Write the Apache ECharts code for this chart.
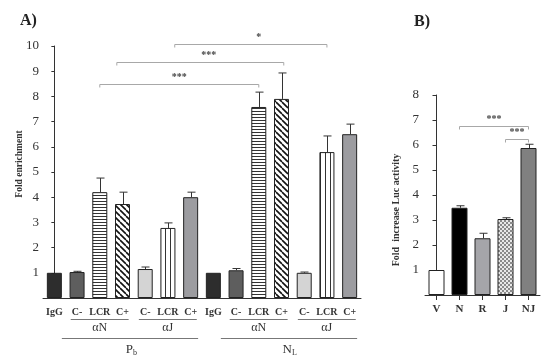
<!DOCTYPE html>
<html><head><meta charset="utf-8">
<script src="https://cdn.jsdelivr.net/npm/echarts@6/dist/echarts.min.js"></script>
<style>html,body{margin:0;padding:0;background:#fff}#c{width:550px;height:361px}</style>
</head><body><div id="c"></div>
<script>
// ---------- data ----------
const catsA = ['IgG','C-','LCR','C+','C-','LCR','C+','IgG','C-','LCR','C+','C-','LCR','C+'];
const valuesA = [1.00,1.03,4.20,3.73,1.15,2.78,4.00,1.00,1.10,7.58,7.90,1.00,5.79,6.50];
const errorsA = [0,0.03,0.56,0.47,0.08,0.20,0.20,0,0.07,0.59,1.03,0.03,0.64,0.40];
// inner groups: label, first category index, last category index
const innerGroups = [['αN',1,3],['αJ',4,6],['αN',8,10],['αJ',11,13]];
// outer groups: main letter, subscript, first index, last index
const outerGroups = [['P','b',0,6],['N','L',7,13]];
// significance brackets: from, to, height, label position, label
const bracketsA = [[2,9,8.5,5.5,'***'],[2.75,10.1,9.37,6.8,'***'],[5.3,12,10.08,9.0,'*']];

const catsB = ['V','N','R','J','NJ'];
const valuesB = [1.00,3.49,2.27,3.04,5.88];
const errorsB = [0,0.08,0.20,0.05,0.15];
const bracketsB = [[1,4,6.78,2.5,'***'],[3,4,6.25,3.5,'***']];

// ---------- styles ----------
const SERIF = '"Liberation Serif", "DejaVu Serif", serif';
function pattern(kind){
  const c = document.createElement('canvas');
  const ctx = c.getContext('2d');
  if (kind === 'h'){ c.width=4; c.height=3; ctx.fillStyle='#fff'; ctx.fillRect(0,0,4,3); ctx.fillStyle='#333'; ctx.fillRect(0,0,4,1); }
  else if (kind === 'v'){ c.width=5; c.height=4; ctx.fillStyle='#fff'; ctx.fillRect(0,0,5,4); ctx.fillStyle='#333'; ctx.fillRect(0,0,1,4); }
  else if (kind === 'd'){ c.width=6; c.height=6; ctx.fillStyle='#fff'; ctx.fillRect(0,0,6,6);
    ctx.strokeStyle='#111'; ctx.lineWidth=1.6;
    for (const o of [-6,0,6]){ ctx.beginPath(); ctx.moveTo(o,0); ctx.lineTo(o+6,6); ctx.stroke(); } }
  else if (kind === 'x'){ c.width=4; c.height=4; ctx.fillStyle='#e8e8e8'; ctx.fillRect(0,0,4,4);
    ctx.fillStyle='#8a8a8a'; ctx.fillRect(0,0,2,2); ctx.fillRect(2,2,2,2); }
  return {image:c, repeat:'repeat'};
}
const pH = pattern('h'), pV = pattern('v'), pD = pattern('d'), pX = pattern('x');
const fillA = ['#2d2d2d','#5e5e5e',pH,pD,'#d4d4d4',pV,'#9c9ca0','#2d2d2d','#5e5e5e',pH,pD,'#d4d4d4',pV,'#9c9ca0'];
const fillB = ['#ffffff','#000000','#a5a5a9',pX,'#808080'];

const chart = echarts.init(document.getElementById('c'), null, {renderer:'canvas'});

function errItem(params, api){
  const e = api.value(2);
  if (!(e > 0)) return null;
  const top = api.coord([api.value(0), api.value(1) + e]);
  const bot = api.coord([api.value(0), api.value(1)]);
  const x = Math.round(top[0]) + 0.5;
  return {type:'group', children:[
    {type:'line', shape:{x1:x,y1:bot[1],x2:x,y2:top[1]}, style:{stroke:'#333',lineWidth:1}},
    {type:'line', shape:{x1:x-4,y1:top[1],x2:x+4,y2:top[1]}, style:{stroke:'#333',lineWidth:1}}
  ]};
}
function bracketRenderer(brackets){
  return function(params, api){
    const b = brackets[params.dataIndex];
    const p1 = api.coord([b[0], b[2]]), p2 = api.coord([b[1], b[2]]);
    const pl = api.coord([b[3], b[2]]);
    const y = Math.round(p1[1]) + 0.5;
    return {type:'group', children:[
      {type:'polyline', shape:{points:[[p1[0],y+3],[p1[0],y],[p2[0],y],[p2[0],y+3]]}, style:{stroke:'#a8a8a8',lineWidth:1,fill:null}},
      {type:'text', x:pl[0], y:y-2, style:{text:b[4], align:'center', verticalAlign:'bottom', font:'bold 10px '+SERIF, fill:'#444'}}
    ]};
  };
}
function groupRenderer(params, api){
  const base = api.coord([0,0])[1];
  if (params.dataIndex < innerGroups.length){
    const g = innerGroups[params.dataIndex];
    const a = api.coord([g[1]-0.28,0])[0], b = api.coord([g[2]+0.27,0])[0];
    const y = Math.round(base + 21) + 0.5;
    return {type:'group', children:[
      {type:'line', shape:{x1:a,y1:y,x2:b,y2:y}, style:{stroke:'#777',lineWidth:1}},
      {type:'text', x:(a+b)/2, y:y+8, style:{text:g[0], align:'center', verticalAlign:'middle', font:'12px '+SERIF, fill:'#333'}}
    ]};
  } else {
    const g = outerGroups[params.dataIndex - innerGroups.length];
    const a = api.coord([g[2]+0.33,0])[0], b = api.coord([g[3]+0.33,0])[0];
    const y = Math.round(base + 40) + 0.5;
    const cx = (a+b)/2 + 2;
    return {type:'group', children:[
      {type:'line', shape:{x1:a,y1:y,x2:b,y2:y}, style:{stroke:'#777',lineWidth:1}},
      {type:'text', x:cx+1, y:y+11, style:{text:g[0], align:'right', verticalAlign:'middle', font:'13px '+SERIF, fill:'#333'}},
      {type:'text', x:cx+1, y:y+14, style:{text:g[1], align:'left', verticalAlign:'middle', font:'8px '+SERIF, fill:'#333'}}
    ]};
  }
}

const axisLineStyle = {color:'#333', width:1};
chart.setOption({
  animation:false,
  backgroundColor:'#fff',
  title:[
    {text:'A)', left:15, top:8, textStyle:{fontFamily:SERIF, fontWeight:'bold', fontSize:16, color:'#222'}},
    {text:'B)', left:409, top:9, textStyle:{fontFamily:SERIF, fontWeight:'bold', fontSize:16, color:'#222'}}
  ],
  graphic:[
    {type:'text', x:20, y:164, rotation:Math.PI/2, style:{text:'Fold enrichment', align:'center', verticalAlign:'middle', font:'bold 9.5px '+SERIF, fill:'#333'}},
    {type:'text', x:396, y:210, rotation:Math.PI/2, style:{text:'Fold  increase Luc activity', align:'center', verticalAlign:'middle', font:'bold 10px '+SERIF, fill:'#333'}}
  ],
  grid:[
    {left:43, top:46, width:318, height:252},
    {left:425, top:95, width:115, height:200}
  ],
  xAxis:[
    {type:'category', gridIndex:0, data:catsA, axisLine:{lineStyle:axisLineStyle}, axisTick:{show:false},
      axisLabel:{fontFamily:SERIF, fontWeight:'bold', fontSize:10, color:'#333', margin:9, interval:0}},
    {type:'value', gridIndex:0, min:-0.5, max:13.5, show:false},
    {type:'category', gridIndex:1, data:catsB, axisLine:{lineStyle:axisLineStyle},
      axisTick:{show:true, alignWithLabel:true, length:5, lineStyle:{color:'#333'}},
      axisLabel:{fontFamily:SERIF, fontWeight:'bold', fontSize:11, color:'#333', margin:9, interval:0}},
    {type:'value', gridIndex:1, min:-0.5, max:4.5, show:false}
  ],
  yAxis:[
    {type:'value', gridIndex:0, min:0, max:10, interval:1, splitLine:{show:false},
      axisLine:{show:true, lineStyle:axisLineStyle}, axisTick:{show:true, length:3, lineStyle:{color:'#333'}},
      axisLabel:{fontFamily:SERIF, fontSize:13, color:'#333', margin:4, formatter:v=> v===0?'':String(v)}},
    {type:'value', gridIndex:1, min:0, max:8, interval:1, splitLine:{show:false},
      axisLine:{show:true, lineStyle:axisLineStyle}, axisTick:{show:true, length:4, lineStyle:{color:'#333'}},
      axisLabel:{fontFamily:SERIF, fontSize:13, color:'#333', margin:6, formatter:v=> v===0?'':String(v)}}
  ],
  series:[
    {type:'bar', xAxisIndex:0, yAxisIndex:0, barWidth:15,
      data:valuesA.map((v,i)=>({value:v, itemStyle:{color:fillA[i]}})),
      itemStyle:{borderColor:'#222', borderWidth:1}},
    {type:'custom', xAxisIndex:0, yAxisIndex:0, data:valuesA.map((v,i)=>[i,v,errorsA[i]]), renderItem:errItem, z:3},
    {type:'custom', xAxisIndex:1, yAxisIndex:0, data:bracketsA.map(b=>[b[0],b[2]]), renderItem:bracketRenderer(bracketsA), clip:false, z:3},
    {type:'custom', xAxisIndex:1, yAxisIndex:0, data:innerGroups.map(g=>[g[1],0]).concat(outerGroups.map(g=>[g[2],0])), renderItem:groupRenderer, clip:false, z:3},
    {type:'bar', xAxisIndex:2, yAxisIndex:1, barWidth:16,
      data:valuesB.map((v,i)=>({value:v, itemStyle:{color:fillB[i]}})),
      itemStyle:{borderColor:'#222', borderWidth:1}},
    {type:'custom', xAxisIndex:2, yAxisIndex:1, data:valuesB.map((v,i)=>[i,v,errorsB[i]]), renderItem:errItem, z:3},
    {type:'custom', xAxisIndex:3, yAxisIndex:1, data:bracketsB.map(b=>[b[0],b[2]]), renderItem:bracketRenderer(bracketsB), clip:false, z:3}
  ]
});
</script></body></html>
